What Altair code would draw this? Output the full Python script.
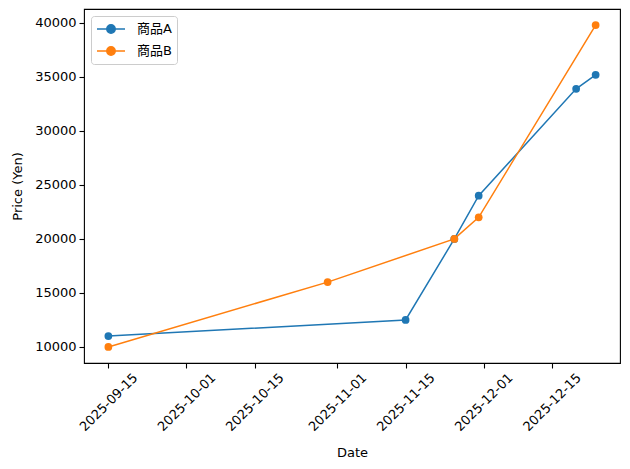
import altair as alt
import pandas as pd

# Data
series_names = ["商品A", "商品B"]
colors = ["#1f77b4", "#ff7f0e"]

dates_a = ["2025-09-15", "2025-11-15", "2025-11-25", "2025-11-30", "2025-12-20", "2025-12-24"]
price_a = [11000, 12500, 20000, 24000, 33900, 35200]

dates_b = ["2025-09-15", "2025-10-30", "2025-11-25", "2025-11-30", "2025-12-24"]
price_b = [10000, 16000, 20000, 22000, 39800]

y_ticks = [10000, 15000, 20000, 25000, 30000, 35000, 40000]
x_ticks = ["2025-09-15", "2025-10-01", "2025-10-15", "2025-11-01", "2025-11-15", "2025-12-01", "2025-12-15"]

df = pd.concat([
    pd.DataFrame({"date": dates_a, "price": price_a, "item": series_names[0], "order": range(len(dates_a))}),
    pd.DataFrame({"date": dates_b, "price": price_b, "item": series_names[1], "order": range(len(dates_b))}),
])


def dt(s):
    y, m, d = (int(v) for v in s.split("-"))
    return alt.DateTime(year=y, month=m, date=d, utc=True)


FONT = "DejaVu Sans"
FS = 13

legend_symbol = "M-2,0H2M-0.6,0A0.6,0.6,0,1,1,0.6,0A0.6,0.6,0,1,1,-0.6,0Z"

legend = alt.Legend(
    title=None,
    orient="top-left",
    offset=7,
    symbolType=legend_symbol,
    symbolSize=196,
    symbolStrokeWidth=1.5,
    symbolOffset=7,
    labelOffset=18,
    labelFontSize=FS,
    labelFont="DejaVu Sans, Noto Sans CJK JP",
    labelColor="black",
    rowPadding=6,
    padding=5,
    strokeColor="#cccccc",
    fillColor="rgba(255,255,255,0.8)",
    cornerRadius=3,
)

color = alt.Color(
    "item:N",
    scale=alt.Scale(domain=series_names, range=colors),
    legend=legend,
)

x = alt.X(
    "date:T",
    title="Date",
    scale=alt.Scale(type="utc", domain=[dt("2025-09-10"), dt("2025-12-29")], nice=False),
    axis=alt.Axis(
        values=[dt(v) for v in x_ticks],
        labelExpr="utcFormat(datum.value, '%Y-%m-%d')",
        labelAngle=-45,
        labelAlign="center",
        labelBaseline="middle",
        labelPadding=34,
        grid=False,
        domain=False,
        tickSize=5,
        tickWidth=1.1,
        tickColor="black",
        labelFont=FONT,
        labelFontSize=FS,
        labelColor="black",
        titleFont=FONT,
        titleFontSize=FS,
        titleFontWeight="normal",
        titleColor="black",
        titlePadding=13,
        labelFlush=False,
        labelOverlap=False,
    ),
)

y = alt.Y(
    "price:Q",
    title="Price (Yen)",
    scale=alt.Scale(domain=[8510, 41290], nice=False, zero=False),
    axis=alt.Axis(
        values=y_ticks,
        format="d",
        grid=False,
        domain=False,
        tickSize=5,
        tickWidth=1.1,
        tickColor="black",
        labelPadding=3,
        labelFont=FONT,
        labelFontSize=FS,
        labelColor="black",
        titleFont=FONT,
        titleFontSize=FS,
        titleFontWeight="normal",
        titleColor="black",
        titlePadding=10,
        labelFlush=False,
        labelOverlap=False,
    ),
)

base = alt.Chart(df).encode(x=x, y=y, color=color, order="order:Q")

lines = base.mark_line(strokeWidth=1.5)
points = base.mark_point(filled=True, shape="circle", size=60, opacity=1)

chart = alt.layer(lines, points).properties(
    width=536,
    height=354,
    autosize=alt.AutoSizeParams(type="none"),
    padding={"left": 76, "top": 1, "right": 2, "bottom": 98},
).configure(
    background="white",
).configure_view(
    stroke="black",
    strokeWidth=1.1,
)

chart.save("out.html", embed_options={"renderer": "svg", "actions": False})
